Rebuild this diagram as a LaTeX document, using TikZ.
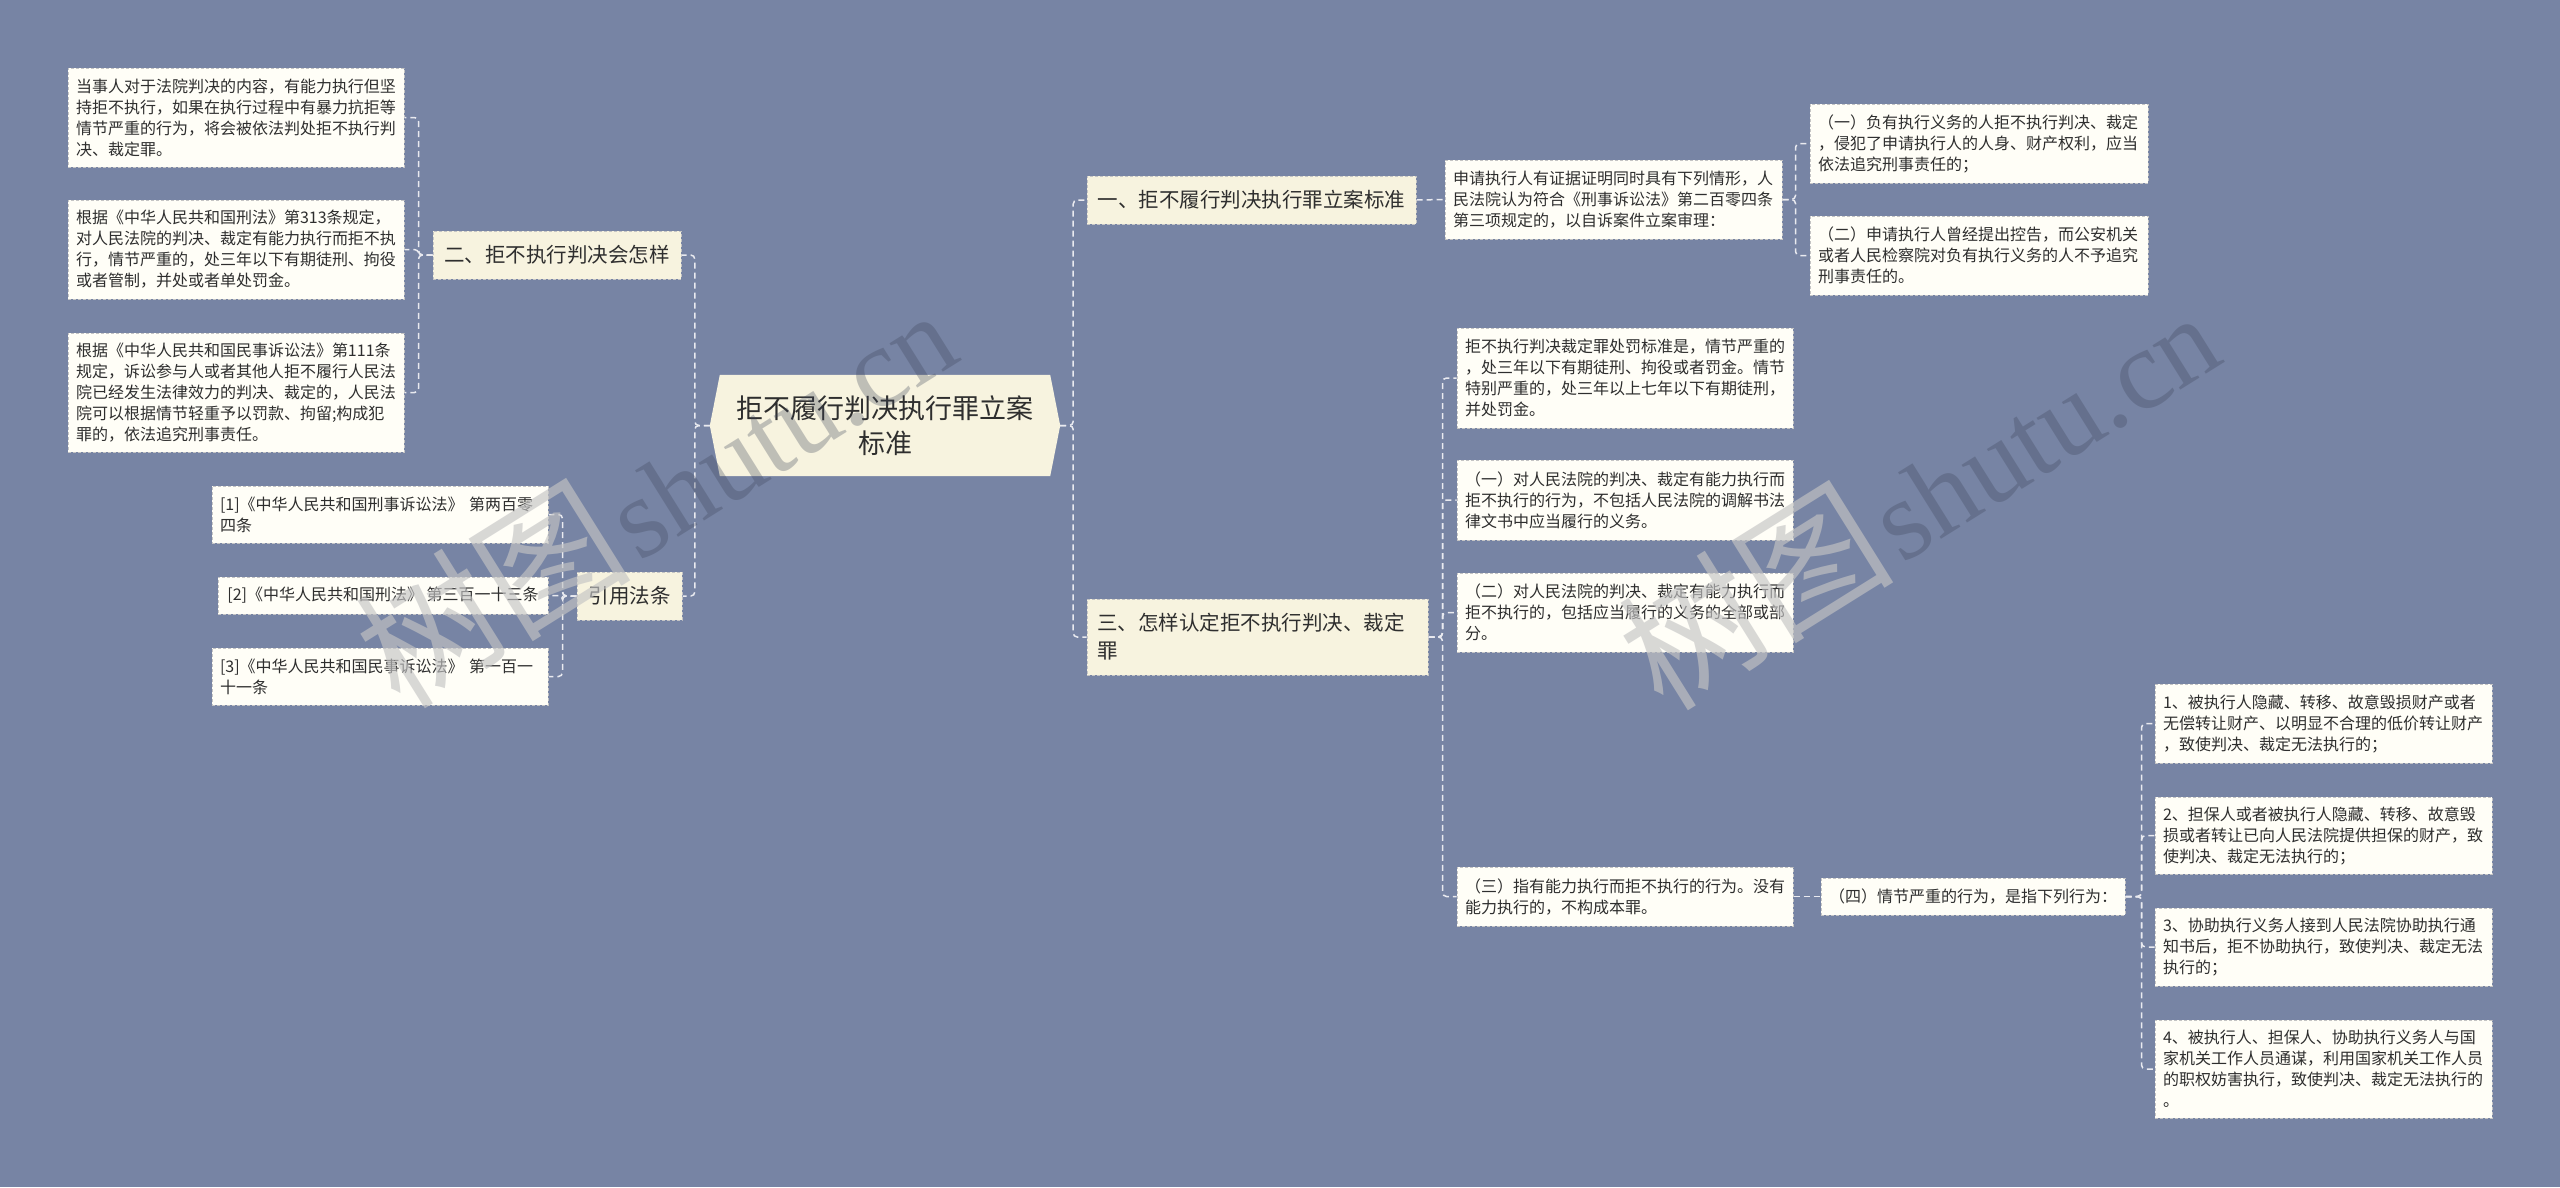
\documentclass[tikz,border=0pt]{standalone}
\usepackage{fontspec}
\newfontfamily\cjk{Noto Sans CJK SC}
\newfontfamily\wmserif{Liberation Serif}
\usetikzlibrary{calc,backgrounds}
\definecolor{bg}{HTML}{7784A4}
\definecolor{leaffill}{HTML}{FFFEF7}
\definecolor{mainfill}{HTML}{F7F3DF}
\definecolor{bordergray}{HTML}{C4C4C4}
\definecolor{linecol}{HTML}{E9EAF0}
\definecolor{txt}{HTML}{2E2E2E}
\definecolor{wmlight}{HTML}{C4C4C4}
\definecolor{wmdark}{HTML}{3C4458}
\begin{document}
\begin{tikzpicture}[x=1pt,y=-1pt,
  leaf/.style={draw=bordergray, dash pattern=on 3pt off 2pt, line width=1pt, fill=leaffill,
    text=txt, font=\cjk\fontsize{16}{21}\selectfont, align=left, inner xsep=8pt, inner ysep=0pt},
  mainbox/.style={draw=bordergray, dash pattern=on 3pt off 2pt, line width=1pt, fill=mainfill,
    text=txt, font=\cjk\fontsize{20.5}{28}\selectfont, align=left, inner xsep=10pt, inner ysep=0pt},
  conn/.style={draw=linecol, line width=1.5pt, dash pattern=on 6pt off 4pt, rounded corners=4pt},
  wm/.style={rotate=32, anchor=base west, inner sep=0pt}
]
\begin{scope}[on background layer]
\fill[bg] (0,0) rectangle (2560,1187);
\end{scope}

% root
\node[font=\cjk\fontsize{27}{35}\selectfont, align=center, text=txt, minimum width=350pt,
  minimum height=101pt, inner sep=0pt] (root) at (885,425.5) {拒不履行判决执行罪立案\\标准};
\begin{scope}[on background layer]
\fill[mainfill] (root.west) -- ([xshift=10pt]root.north west) -- ([xshift=-10pt]root.north east)
  -- (root.east) -- ([xshift=-10pt]root.south east) -- ([xshift=10pt]root.south west) -- cycle;
\end{scope}

% left branch 2
\node[mainbox, minimum width=248pt, minimum height=48pt, align=center] (B2) at (557,255) {二、拒不执行判决会怎样};
\node[leaf, text width=320pt, minimum height=99pt] (L1) at (236,117.5)
  {当事人对于法院判决的内容，有能力执行但坚\\持拒不执行，如果在执行过程中有暴力抗拒等\\情节严重的行为，将会被依法判处拒不执行判\\决、裁定罪。};
\node[leaf, text width=320pt, minimum height=99pt] (L2) at (236,249.5)
  {根据《中华人民共和国刑法》第313条规定，\\对人民法院的判决、裁定有能力执行而拒不执\\行，情节严重的，处三年以下有期徒刑、拘役\\或者管制，并处或者单处罚金。};
\node[leaf, text width=320pt, minimum height=119pt] (L3) at (236,392.5)
  {根据《中华人民共和国民事诉讼法》第111条\\规定，诉讼参与人或者其他人拒不履行人民法\\院已经发生法律效力的判决、裁定的，人民法\\院可以根据情节轻重予以罚款、拘留;构成犯\\罪的，依法追究刑事责任。};

% references
\node[mainbox, minimum width=105pt, minimum height=48pt, align=center] (Ref) at (629.5,596) {引用法条};
\node[leaf, text width=320pt, minimum height=57pt] (R1) at (380,514.5)
  {[1]《中华人民共和国刑事诉讼法》 第两百零\\四条};
\node[leaf, inner xsep=2pt, minimum width=330pt, minimum height=37pt] (R2) at (383,595.5)
  {[2]《中华人民共和国刑法》 第三百一十三条};
\node[leaf, text width=320pt, minimum height=57pt] (R3) at (380,676.5)
  {[3]《中华人民共和国民事诉讼法》 第一百一\\十一条};

% right branch 1
\node[mainbox, minimum width=329pt, minimum height=48pt, align=center] (B1) at (1251.5,200) {一、拒不履行判决执行罪立案标准};
\node[leaf, text width=321pt, minimum height=79pt] (N1) at (1613.5,199.5)
  {申请执行人有证据证明同时具有下列情形，人\\民法院认为符合《刑事诉讼法》第二百零四条\\第三项规定的，以自诉案件立案审理：};
\node[leaf, text width=322pt, minimum height=79pt] (N1a) at (1979,143.5)
  {（一）负有执行义务的人拒不执行判决、裁定\\，侵犯了申请执行人的人身、财产权利，应当\\依法追究刑事责任的；};
\node[leaf, text width=322pt, minimum height=79pt] (N1b) at (1979,255.5)
  {（二）申请执行人曾经提出控告，而公安机关\\或者人民检察院对负有执行义务的人不予追究\\刑事责任的。};

% right branch 3
\node[mainbox, text width=321pt, minimum height=76pt] (B3) at (1257.5,637) {三、怎样认定拒不执行判决、裁定\\罪};
\node[leaf, text width=320pt, minimum height=100pt] (N3a) at (1625,378)
  {拒不执行判决裁定罪处罚标准是，情节严重的\\，处三年以下有期徒刑、拘役或者罚金。情节\\特别严重的，处三年以上七年以下有期徒刑，\\并处罚金。};
\node[leaf, text width=320pt, minimum height=80pt] (N3b) at (1625,500)
  {（一）对人民法院的判决、裁定有能力执行而\\拒不执行的行为，不包括人民法院的调解书法\\律文书中应当履行的义务。};
\node[leaf, text width=320pt, minimum height=79pt] (N3c) at (1625,612.5)
  {（二）对人民法院的判决、裁定有能力执行而\\拒不执行的，包括应当履行的义务的全部或部\\分。};
\node[leaf, text width=320pt, minimum height=59pt] (N3d) at (1625,896.5)
  {（三）指有能力执行而拒不执行的行为。没有\\能力执行的，不构成本罪。};
\node[leaf, minimum width=304pt, minimum height=37pt] (N4) at (1973,896.5)
  {（四）情节严重的行为，是指下列行为：};
\node[leaf, text width=321pt, minimum height=79pt] (I1) at (2323.5,723.5)
  {1、被执行人隐藏、转移、故意毁损财产或者\\无偿转让财产、以明显不合理的低价转让财产\\，致使判决、裁定无法执行的；};
\node[leaf, text width=321pt, minimum height=77pt] (I2) at (2323.5,835.5)
  {2、担保人或者被执行人隐藏、转移、故意毁\\损或者转让已向人民法院提供担保的财产，致\\使判决、裁定无法执行的；};
\node[leaf, text width=321pt, minimum height=78pt] (I3) at (2323.5,947)
  {3、协助执行义务人接到人民法院协助执行通\\知书后，拒不协助执行，致使判决、裁定无法\\执行的；};
\node[leaf, text width=321pt, minimum height=98pt] (I4) at (2323.5,1069)
  {4、被执行人、担保人、协助执行义务人与国\\家机关工作人员通谋，利用国家机关工作人员\\的职权妨害执行，致使判决、裁定无法执行的\\。};

% connectors
\draw[conn] (root.west) -- ++(-15,0) |- (B2.east);
\draw[conn] (root.west) -- ++(-15,0) |- (Ref.east);
\draw[conn] (root.east) -- ++(13,0) |- (B1.west);
\draw[conn] (root.east) -- ++(13,0) |- (B3.west);
\draw[conn] (B2.west) -- ++(-14,0) |- (L1.east);
\draw[conn] (B2.west) -- ++(-14,0) |- (L2.east);
\draw[conn] (B2.west) -- ++(-14,0) |- (L3.east);
\draw[conn] (Ref.west) -- ++(-14,0) |- (R1.east);
\draw[conn] (Ref.west) -- ++(-14,0) |- (R2.east);
\draw[conn] (Ref.west) -- ++(-14,0) |- (R3.east);
\draw[conn] (B1.east) -- (N1.west);
\draw[conn] (N1.east) -- ++(13,0) |- (N1a.west);
\draw[conn] (N1.east) -- ++(13,0) |- (N1b.west);
\draw[conn] (B3.east) -- ++(14,0) |- (N3a.west);
\draw[conn] (B3.east) -- ++(14,0) |- (N3b.west);
\draw[conn] (B3.east) -- ++(14,0) |- (N3c.west);
\draw[conn] (B3.east) -- ++(14,0) |- (N3d.west);
\draw[conn] (N3d.east) -- (N4.west);
\draw[conn] (N4.east) -- ++(16,0) |- (I1.west);
\draw[conn] (N4.east) -- ++(16,0) |- (I2.west);
\draw[conn] (N4.east) -- ++(16,0) |- (I3.west);
\draw[conn] (N4.east) -- ++(16,0) |- (I4.west);

% watermarks
\node[wm] (wm1) at (400,712) {\color{wmlight}\pgfsetfillopacity{0.65}\cjk\fontsize{138}{138}\selectfont 树图\hspace{6pt}\color{wmdark}\pgfsetfillopacity{0.3}\wmserif\fontsize{114}{114}\selectfont shutu.cn};
\node[wm] (wm2) at (1663,714) {\color{wmlight}\pgfsetfillopacity{0.65}\cjk\fontsize{138}{138}\selectfont 树图\hspace{6pt}\color{wmdark}\pgfsetfillopacity{0.3}\wmserif\fontsize{114}{114}\selectfont shutu.cn};
\end{tikzpicture}
\end{document}
